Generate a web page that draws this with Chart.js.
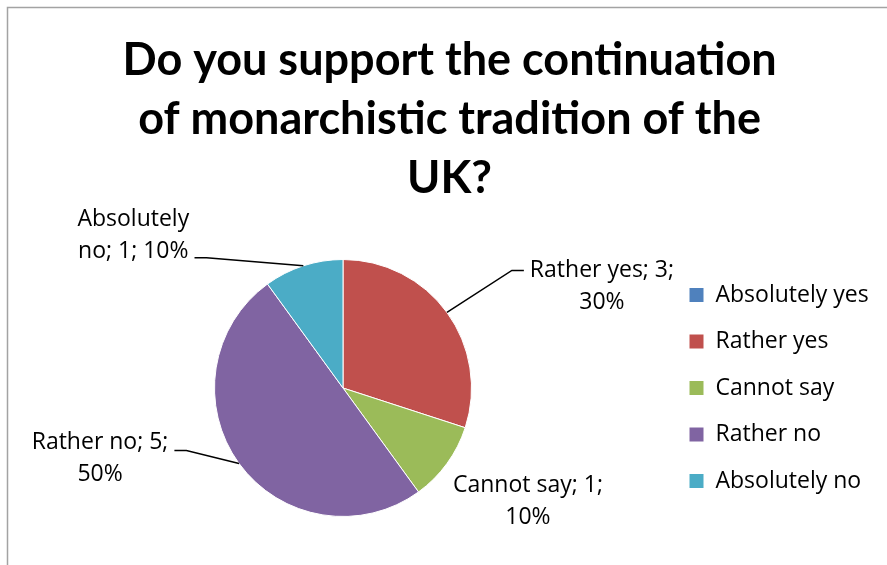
<!DOCTYPE html>
<html>
<head>
<meta charset="utf-8">
<script src="https://cdn.jsdelivr.net/npm/chart.js@4.4.0/dist/chart.umd.min.js"></script>
<style>
  html, body { margin: 0; padding: 0; background: #fff; overflow: hidden; }
  #wrap { position: relative; width: 887px; height: 565px; }
</style>
</head>
<body>
<div id="wrap"><canvas id="chart" width="887" height="565"></canvas></div>
<script>
// Survey answers
const categories = ['Absolutely yes', 'Rather yes', 'Cannot say', 'Rather no', 'Absolutely no'];
const responses = [0, 3, 1, 5, 1];
const sliceColors = ['#4F81BD', '#C0504D', '#9BBB59', '#8064A2', '#4BACC6'];
const titleLines = ['Do you support the continuation', 'of monarchistic tradition of the', 'UK?'];

const TITLE_FONT = 'Lato, "Open Sans", sans-serif';
const TEXT_FONT = '"Open Sans", Lato, sans-serif';
const TEXT_SIZE = 23;
const labelFont = TEXT_SIZE + 'px ' + TEXT_FONT;
const labelLineGap = 32;

// Legend geometry
const LEGEND_BOX = 15;
const LEGEND_PAD = 23.5;
const LEGEND_LEFT = 665.5;   // left edge of the legend block
const PIE_CENTER_X = 343;

// Work out side paddings so the pie sits at PIE_CENTER_X and the legend at LEGEND_LEFT
const measureCtx = document.createElement('canvas').getContext('2d');
measureCtx.font = labelFont;
const widestName = Math.max(...categories.map(c => measureCtx.measureText(c).width));
const legendWidth = LEGEND_PAD + LEGEND_BOX + TEXT_SIZE / 2 + widestName + 10;
const padLeft = 2 * PIE_CENTER_X - LEGEND_LEFT;
const padRight = Math.max(0, 887 - LEGEND_LEFT - legendWidth);

// Where each "name; count; percent" label sits relative to its slice's outer midpoint,
// which word the text wraps after, and which side the leader line leaves from.
const labelPlacement = {
  'Rather yes':    { dx: 155, dy: -26, breakAfter: 3, leader: 'left',  line: 0, leaderDy: 0 },
  'Cannot say':    { dx: 81,  dy: 38,  breakAfter: 3, leader: null },
  'Rather no':     { dx: -139, dy: -5, breakAfter: 3, leader: 'right', line: 0, leaderDy: 8 },
  'Absolutely no': { dx: -170, dy: -30, breakAfter: 1, leader: 'right', line: 1, leaderDy: 6 }
};

// Thin grey frame along the top and left edges
const framePlugin = {
  id: 'frame',
  beforeDraw(chart) {
    const ctx = chart.ctx;
    ctx.save();
    ctx.strokeStyle = '#a3a3a3';
    ctx.lineWidth = 1.5;
    ctx.beginPath();
    ctx.moveTo(7.5, chart.height);
    ctx.lineTo(7.5, 7.5);
    ctx.lineTo(chart.width, 7.5);
    ctx.stroke();
    ctx.restore();
  }
};

// Data labels with leader lines
const sliceLabels = {
  id: 'sliceLabels',
  afterDatasetsDraw(chart) {
    const ctx = chart.ctx;
    const meta = chart.getDatasetMeta(0);
    const data = chart.data.datasets[0].data;
    const total = data.reduce((a, b) => a + b, 0);
    ctx.save();
    ctx.font = labelFont;
    ctx.fillStyle = '#000';
    ctx.strokeStyle = '#000';
    ctx.lineWidth = 1.5;
    ctx.textBaseline = 'middle';
    ctx.textAlign = 'center';
    meta.data.forEach((arc, i) => {
      const v = data[i];
      if (!v) return;
      const name = chart.data.labels[i];
      const place = labelPlacement[name];
      if (!place) return;
      const p = arc.getProps(['x', 'y', 'startAngle', 'endAngle', 'outerRadius'], true);
      const mid = (p.startAngle + p.endAngle) / 2;
      const px = p.x + Math.cos(mid) * p.outerRadius;
      const py = p.y + Math.sin(mid) * p.outerRadius;
      const pct = Math.round(v / total * 100);
      const words = `${name}; ${v}; ${pct}%`.split(' ');
      const lines = [words.slice(0, place.breakAfter).join(' '), words.slice(place.breakAfter).join(' ')];
      const cx = px + place.dx;
      const cy = py + place.dy;
      const top = cy - (lines.length - 1) * labelLineGap / 2;
      lines.forEach((t, k) => ctx.fillText(t, cx, top + k * labelLineGap));
      if (place.leader) {
        const k = place.line;
        const w = ctx.measureText(lines[k]).width;
        const ly = top + k * labelLineGap + place.leaderDy;
        const side = place.leader === 'left' ? -1 : 1;
        const ex = cx + side * (w / 2 + 6);
        const elbow = ex + side * 12;
        ctx.beginPath();
        ctx.moveTo(ex, ly);
        ctx.lineTo(elbow, ly);
        ctx.lineTo(px, py);
        ctx.stroke();
      }
    });
    ctx.restore();
  }
};

new Chart(document.getElementById('chart'), {
  type: 'pie',
  data: {
    labels: categories,
    datasets: [{
      data: responses,
      backgroundColor: sliceColors,
      borderColor: '#ffffff',
      borderWidth: 1
    }]
  },
  options: {
    responsive: false,
    animation: false,
    events: [],
    layout: { padding: { left: padLeft, right: padRight, top: 0, bottom: 48 } },
    plugins: {
      title: {
        display: true,
        text: titleLines,
        color: '#000',
        font: { family: TITLE_FONT, size: 45, weight: 'bold', lineHeight: '59px' },
        padding: { top: 31, bottom: 51 }
      },
      legend: {
        position: 'right',
        fullSize: false,
        labels: {
          color: '#000',
          font: { family: TEXT_FONT, size: TEXT_SIZE },
          boxWidth: LEGEND_BOX,
          boxHeight: LEGEND_BOX,
          padding: LEGEND_PAD
        }
      },
      tooltip: { enabled: false }
    }
  },
  plugins: [framePlugin, sliceLabels]
});
</script>
</body>
</html>
